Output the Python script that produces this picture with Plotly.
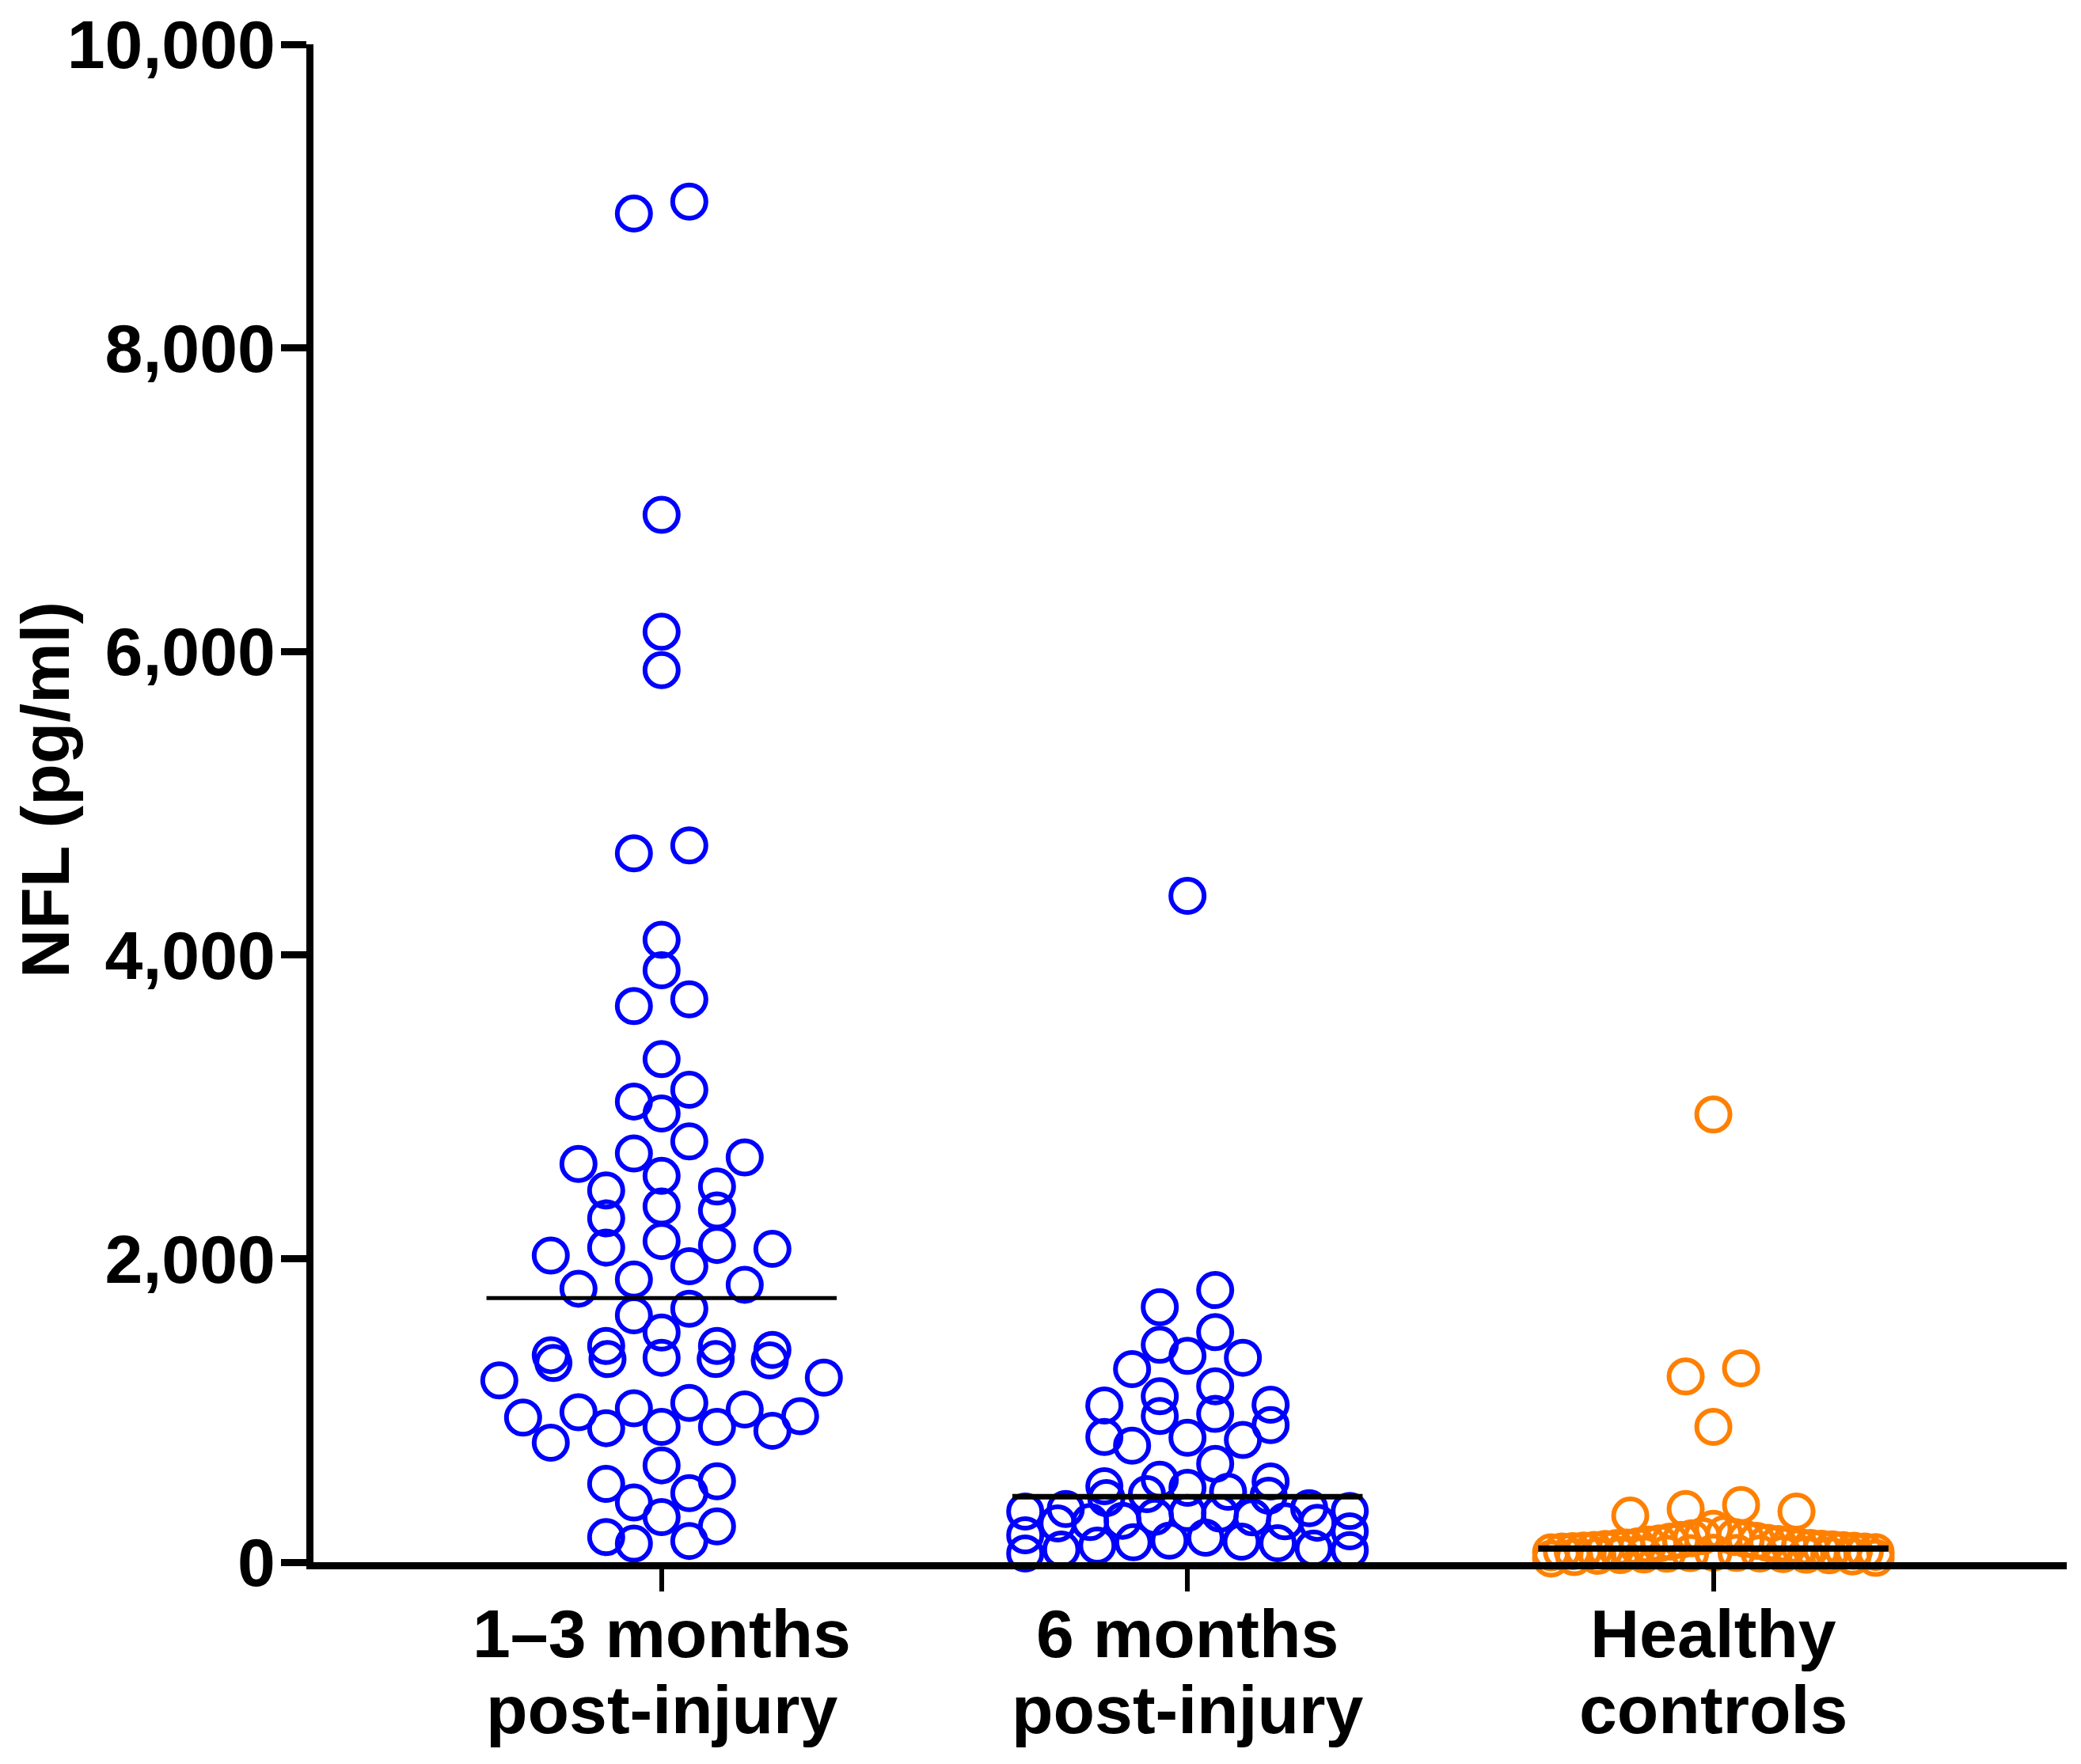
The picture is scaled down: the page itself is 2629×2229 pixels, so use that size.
import plotly.graph_objects as go

# ---------------- data ----------------
category_line1 = ["1–3 months", "6 months", "Healthy"]
category_line2 = ["post-injury", "post-injury", "controls"]

nfl_1_3_months = [
    8885, 8964, 6900, 6130, 5877, 4670, 4722, 4101, 3900, 3664, 3708,
    3314, 3113, 3035, 2956, 2772, 2693, 2667, 2624, 2545, 2475, 2449,
    2317, 2344, 2265, 2116, 2020, 2090, 2064, 2073, 1950, 1828, 1863, 1802,
    1670, 1627, 1513, 1338, 1216, 1312, 1425, 1198, 1338, 1425, 1364, 1399,
    1347, 1329, 1006, 892, 953, 787, 892, 962, 1049, 988, 866, 883, 1014,
    455, 516, 638, 394, 533, 297, 236, 140, 166, 122,
]

nfl_6_months = [
    4390,
    1793, 1680, 1516, 1432, 1359, 1347, 1272, 1159, 1093, 1038, 1032, 977,
    963, 903, 825, 820, 806, 768, 648, 543,
    532, 500, 490, 464, 448, 438, 422,
    273, 109, 299, 203, 325, 135, 351, 177, 255, 57, 334, 162, 338, 83,
    270, 142, 356, 80, 264, 131, 296, 125, 321, 260, 90,
]

nfl_healthy = [
    2950, 1277, 1224, 892, 377, 351, 334, 307,
    220, 185, 172, 166, 158, 152, 147, 141, 136, 128, 124, 120, 116, 112,
    104, 100, 97, 94, 92,
    88, 87, 85, 81, 80, 77, 76, 73, 71, 70, 67, 65, 63, 61, 60, 57, 56, 53,
    51, 49, 47, 45, 42, 38, 34, 29, 24,
]

group_medians = [1740, 432, 90]

y_tick_values = [0, 2000, 4000, 6000, 8000, 10000]
y_title = "NFL (pg/ml)"

# ---------------- layout / style ----------------
BODY = 8                      # default page margin around the figure div
W, H = 2629 - BODY, 2229 - BODY
M_L, M_R, M_T, M_B = 388, 18, 48, 255
X_RANGE = [-0.662, 2.672]
Y_RANGE = [0, 10000]
PLOT_W = W - M_L - M_R
PLOT_H = H - M_T - M_B
PX_PER_X = PLOT_W / (X_RANGE[1] - X_RANGE[0])
PX_PER_Y = PLOT_H / (Y_RANGE[1] - Y_RANGE[0])

MARKER_SIZE = 42
MARKER_LINE = 6
ROW_BAND_PX = 30
STEP_PX = 70
MAX_HALF_PX = 205
MEDIAN_HALF = 0.333

colors = ["#0000FF", "#0000FF", "#FF8000"]
median_widths = [5, 7, 8]
FONT = "Liberation Sans, Arial, sans-serif"
FONT_SIZE = 86

# page-pixel rows for the two lines of category labels (cap-centre)
LABEL_Y1_PX, LABEL_Y2_PX = 2064 - BODY, 2160 - BODY


def paper_y(fig_px):
    return 1 - (fig_px - M_T) / PLOT_H


def swarm_x(values, center):
    """Column-scatter layout: bin points into horizontal rows, spread them symmetrically."""
    order = sorted(range(len(values)), key=lambda i: -values[i])
    rows = []
    for i in order:
        ypx = values[i] * PX_PER_Y
        if rows and rows[-1]["top"] - ypx <= ROW_BAND_PX:
            rows[-1]["idx"].append(i)
        else:
            rows.append({"top": ypx, "idx": [i]})
    xs = [center] * len(values)
    for r in rows:
        n = len(r["idx"])
        step = STEP_PX if n == 1 else min(STEP_PX, 2 * MAX_HALF_PX / (n - 1))
        offs = [(k - (n - 1) / 2) * step for k in range(n)]
        offs = sorted(offs, key=lambda o: (abs(o), -o))
        for i, o in zip(r["idx"], offs):
            xs[i] = center + o / PX_PER_X
    return xs


groups = [nfl_1_3_months, nfl_6_months, nfl_healthy]

fig = go.Figure()
for gi, vals in enumerate(groups):
    fig.add_trace(go.Scatter(
        x=swarm_x(vals, gi), y=vals, mode="markers",
        marker=dict(symbol="circle-open", size=MARKER_SIZE, color=colors[gi],
                    line=dict(width=MARKER_LINE, color=colors[gi])),
        cliponaxis=False, showlegend=False, hoverinfo="y",
    ))

for gi, med in enumerate(group_medians):
    fig.add_trace(go.Scatter(
        x=[gi - MEDIAN_HALF, gi + MEDIAN_HALF], y=[med, med], mode="lines",
        line=dict(color="black", width=median_widths[gi]),
        cliponaxis=False, showlegend=False, hoverinfo="skip",
    ))

label_font = dict(family=FONT, size=FONT_SIZE, color="black", weight="bold")
annotations = [dict(
    text=y_title, textangle=-90, xref="paper", yref="paper",
    x=(57 - BODY - M_L) / PLOT_W, y=paper_y(998 - BODY),
    xanchor="center", yanchor="middle", showarrow=False, font=label_font,
)]
for gi in range(len(category_line1)):
    annotations.append(dict(text=category_line1[gi], x=gi, xref="x", yref="paper",
                            y=paper_y(LABEL_Y1_PX), xanchor="center", yanchor="middle",
                            showarrow=False, font=label_font))
    annotations.append(dict(text=category_line2[gi], x=gi, xref="x", yref="paper",
                            y=paper_y(LABEL_Y2_PX), xanchor="center", yanchor="middle",
                            showarrow=False, font=label_font))

fig.update_layout(
    width=W, height=H,
    margin=dict(l=M_L, r=M_R, t=M_T, b=M_B, pad=0, autoexpand=False),
    paper_bgcolor="white", plot_bgcolor="white",
    xaxis=dict(
        range=X_RANGE, tickmode="array", tickvals=[0, 1, 2], showticklabels=False,
        automargin=False,
        showgrid=False, zeroline=False, showline=True, linecolor="black", linewidth=9,
        ticks="outside", ticklen=28, tickwidth=6, tickcolor="black",
    ),
    yaxis=dict(
        range=Y_RANGE, tickmode="array", tickvals=y_tick_values, tickformat=",d",
        automargin=False,
        showgrid=False, zeroline=False, showline=True, linecolor="black", linewidth=9,
        ticks="outside", ticklen=32, tickwidth=9, tickcolor="black",
        ticklabelstandoff=-10,
        tickfont=label_font,
    ),
    annotations=annotations,
)

fig.write_html("out.html")
